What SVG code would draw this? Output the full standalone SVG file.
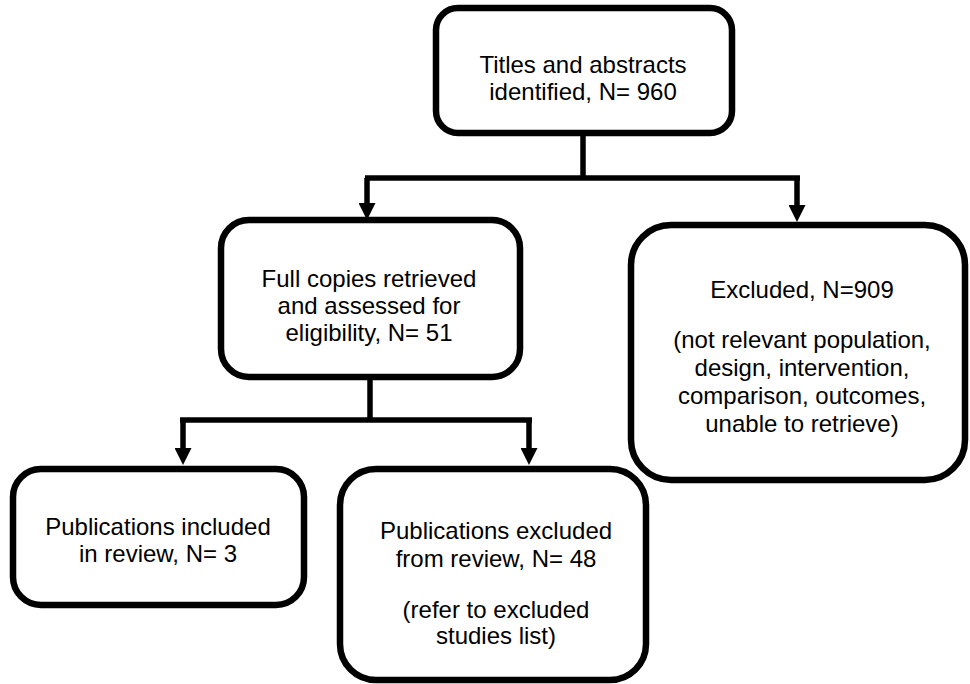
<svg xmlns="http://www.w3.org/2000/svg" width="970" height="684" viewBox="0 0 970 684">
<style>
.box{fill:#fff;stroke:#000;stroke-width:6.5}
.con{fill:none;stroke:#000;stroke-width:5.5}
text{font-family:"Liberation Sans",Arial,sans-serif;font-size:24px;fill:#000;text-anchor:middle}
</style>
<defs>
<marker id="ah" viewBox="0 0 10 10" refX="0" refY="5" markerWidth="17" markerHeight="17" markerUnits="userSpaceOnUse" orient="auto">
<path d="M0,0 L10,5 L0,10 Z" fill="#000"/>
</marker>
</defs>
<rect width="970" height="684" fill="#fff"/>
<g id="connectors">
<path class="con" d="M583,133 V178"/>
<path class="con" d="M365,178 H800"/>
<path class="con" d="M367,178 V203" marker-end="url(#ah)"/>
<path class="con" d="M797,178 V205" marker-end="url(#ah)"/>
<path class="con" d="M370,378 V420"/>
<path class="con" d="M180,420 H532"/>
<path class="con" d="M183,420 V448" marker-end="url(#ah)"/>
<path class="con" d="M529,420 V448" marker-end="url(#ah)"/>
</g>
<g id="titles">
<rect class="box" x="436" y="8" width="296" height="125" rx="22"/>
<text x="583" y="73">Titles and abstracts</text>
<text x="583" y="100">identified, N= 960</text>
</g>
<g id="fullcopies">
<rect class="box" x="221" y="220" width="299" height="157" rx="28"/>
<text x="369" y="287">Full copies retrieved</text>
<text x="369" y="314">and assessed for</text>
<text x="369" y="341">eligibility, N= 51</text>
</g>
<g id="excluded">
<rect class="box" x="631" y="225" width="334" height="255" rx="40"/>
<text x="802" y="298">Excluded, N=909</text>
<text x="802" y="348">(not relevant population,</text>
<text x="802" y="376">design, intervention,</text>
<text x="802" y="404">comparison, outcomes,</text>
<text x="802" y="432">unable to retrieve)</text>
</g>
<g id="included">
<rect class="box" x="13" y="469" width="291" height="136" rx="28"/>
<text x="158" y="535">Publications included</text>
<text x="158" y="562">in review, N= 3</text>
</g>
<g id="pubexcluded">
<rect class="box" x="340" y="469" width="306" height="211" rx="36"/>
<text x="496" y="539">Publications excluded</text>
<text x="496" y="567">from review, N= 48</text>
<text x="496" y="618">(refer to excluded</text>
<text x="496" y="644">studies list)</text>
</g>
</svg>
